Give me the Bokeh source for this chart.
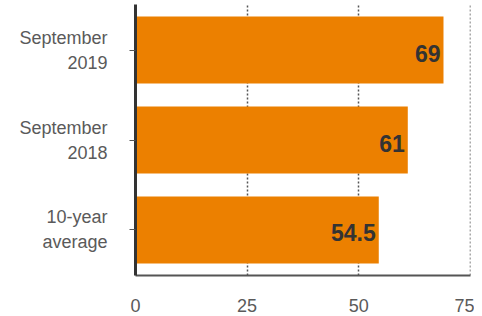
from bokeh.plotting import figure
from bokeh.models import ColumnDataSource, FixedTicker, Range1d
from bokeh.embed import file_html
from bokeh.resources import INLINE
from bokeh.core.properties import value

categories = ["September\n2019", "September\n2018", "10-year\naverage"]
values = [69, 61, 54.5]
value_labels = ["69", "61", "54.5"]
x_ticks = [0, 25, 50, 75]

n = len(categories)
ypos = [n - 1 - i for i in range(n)]

src = ColumnDataSource(dict(y=ypos, v=values, lab=value_labels))

p = figure(width=474, height=316, output_backend="svg", toolbar_location=None,
           x_range=Range1d(0, 75.05), y_range=Range1d(-0.506, 2.506),
           min_border_left=135, min_border_right=4, min_border_top=4, min_border_bottom=41)
p.outline_line_color = None
p.background_fill_color = "white"
p.border_fill_color = "white"

p.hbar(y="y", right="v", left=0, height=0.744, source=src, color="#ec8000", line_color=None)
p.text(x="v", y="y", text="lab", source=src, text_align="right", text_baseline="middle",
       x_offset=-3, y_offset=3, text_font=value("Liberation Sans"), text_font_size="23px",
       text_font_style="bold", text_color="#333333")

# grid
p.ygrid.grid_line_color = None
p.xgrid.ticker = FixedTicker(ticks=x_ticks)
p.xgrid.grid_line_color = "#555555"
p.xgrid.grid_line_dash = "2 2"
p.xgrid.grid_line_width = 1.5

# x axis
p.xaxis.ticker = FixedTicker(ticks=x_ticks)
p.xaxis.axis_line_color = "#555555"
p.xaxis.axis_line_width = 2
p.xaxis.major_tick_line_color = None
p.xaxis.minor_tick_line_color = None
p.xaxis.major_tick_out = 0
p.xaxis.major_tick_in = 0
p.xaxis.major_label_standoff = 23
p.xaxis.major_label_text_font = "Liberation Sans"
p.xaxis.major_label_text_font_size = "18px"
p.xaxis.major_label_text_color = "#5a5a5a"

# y axis
p.yaxis.ticker = FixedTicker(ticks=ypos)
p.yaxis.major_label_overrides = {y: c for y, c in zip(ypos, categories)}
p.yaxis.axis_line_color = "#333333"
p.yaxis.axis_line_width = 3
p.yaxis.major_tick_line_color = "#555555"
p.yaxis.major_tick_out = 6
p.yaxis.major_tick_in = 0
p.yaxis.minor_tick_line_color = None
p.yaxis.major_label_standoff = 22
p.yaxis.major_label_text_font = "Liberation Sans"
p.yaxis.major_label_text_font_size = "18px"
p.yaxis.major_label_text_color = "#5a5a5a"
p.yaxis.major_label_text_line_height = 1.25

open("out.html", "w").write(file_html(p, INLINE))
